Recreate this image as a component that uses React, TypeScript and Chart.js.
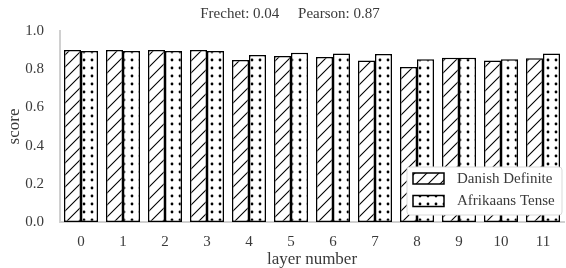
import React, { useEffect, useRef } from "react";
import { Chart, registerables } from "chart.js";

Chart.register(...registerables);

const categories = ["0", "1", "2", "3", "4", "5", "6", "7", "8", "9", "10", "11"];
const danishDefinite = [0.9, 0.9, 0.9, 0.9, 0.848, 0.869, 0.864, 0.845, 0.812, 0.86, 0.846, 0.857];
const afrikaansTense = [0.895, 0.895, 0.895, 0.895, 0.874, 0.886, 0.882, 0.88, 0.852, 0.86, 0.852, 0.882];
const seriesNames = ["Danish Definite", "Afrikaans Tense"];
const titleText = "Frechet: 0.04     Pearson: 0.87";

const FONT = "'Liberation Serif', 'Times New Roman', serif";
const TEXT = "#3a3a3a";

function hatchPattern(ctx: CanvasRenderingContext2D): CanvasPattern | string {
  const s = 12;
  const c = document.createElement("canvas");
  c.width = s;
  c.height = s;
  const g = c.getContext("2d")!;
  g.fillStyle = "#ffffff";
  g.fillRect(0, 0, s, s);
  g.strokeStyle = "#000000";
  g.lineWidth = 1.1;
  g.beginPath();
  g.moveTo(-1, s + 1);
  g.lineTo(s + 1, -1);
  g.moveTo(-1, 1);
  g.lineTo(1, -1);
  g.moveTo(s - 1, s + 1);
  g.lineTo(s + 1, s - 1);
  g.stroke();
  return ctx.createPattern(c, "repeat") || "#fff";
}

function dotPattern(ctx: CanvasRenderingContext2D): CanvasPattern | string {
  const s = 8;
  const c = document.createElement("canvas");
  c.width = s;
  c.height = s;
  const g = c.getContext("2d")!;
  g.fillStyle = "#ffffff";
  g.fillRect(0, 0, s, s);
  g.fillStyle = "#000000";
  g.beginPath();
  g.arc(4, 4, 1.4, 0, Math.PI * 2);
  g.fill();
  return ctx.createPattern(c, "repeat") || "#fff";
}

const titlePlugin = {
  id: "customTitle",
  afterDraw(chart: any) {
    const ctx = chart.ctx;
    ctx.save();
    ctx.font = `15px ${FONT}`;
    ctx.fillStyle = TEXT;
    ctx.textAlign = "center";
    ctx.textBaseline = "middle";
    ctx.fillText(titleText, 290, 14);
    ctx.restore();
  },
};

const legendPlugin = {
  id: "customLegend",
  afterDatasetsDraw(chart: any) {
    const ctx = chart.ctx;
    const x = 407, y = 167, w = 155, h = 48, r = 3;
    ctx.save();
    ctx.beginPath();
    ctx.roundRect(x, y, w, h, r);
    ctx.fillStyle = "#ffffff";
    ctx.fill();
    ctx.strokeStyle = "#d9d9d9";
    ctx.lineWidth = 1;
    ctx.stroke();
    chart.data.datasets.forEach((ds: any, i: number) => {
      const sy = y + 6 + i * 22.5;
      ctx.fillStyle = ds.backgroundColor;
      ctx.fillRect(413, sy, 31, 11);
      ctx.strokeStyle = "#000";
      ctx.lineWidth = 1.5;
      ctx.strokeRect(413, sy, 31, 11);
      ctx.font = `15px ${FONT}`;
      ctx.fillStyle = TEXT;
      ctx.textAlign = "left";
      ctx.textBaseline = "middle";
      ctx.fillText(ds.label, 457, sy + 6);
    });
    ctx.restore();
  },
};

export default function App() {
  const ref = useRef<HTMLCanvasElement>(null);
  useEffect(() => {
    document.body.style.margin = "0";
    const canvas = ref.current!;
    const ctx = canvas.getContext("2d")!;
    const chart = new Chart(ctx, {
      type: "bar",
      data: {
        labels: categories,
        datasets: [
          {
            label: seriesNames[0],
            data: danishDefinite,
            backgroundColor: hatchPattern(ctx) as any,
            borderColor: "#000",
            borderWidth: 1.5,
            borderSkipped: false,
            categoryPercentage: 0.81,
            barPercentage: 1,
          },
          {
            label: seriesNames[1],
            data: afrikaansTense,
            backgroundColor: dotPattern(ctx) as any,
            borderColor: "#000",
            borderWidth: 1.5,
            borderSkipped: false,
            categoryPercentage: 0.81,
            barPercentage: 1,
          },
        ],
      },
      options: {
        responsive: false,
        animation: false,
        devicePixelRatio: 1,
        layout: { padding: { top: 31, right: 2, left: 0, bottom: 0 } },
        plugins: {
          legend: { display: false },
          title: { display: false },
          tooltip: { enabled: false },
        },
        scales: {
          x: {
            grid: { display: false, drawTicks: false },
            border: { display: true, color: "#d0d0d0", width: 2 },
            ticks: { font: { family: FONT, size: 15 }, color: TEXT, padding: 11 },
            title: {
              display: true,
              text: "layer number",
              font: { family: FONT, size: 17 },
              color: TEXT,
              padding: { top: 0, bottom: -2 },
            },
            afterFit: (s: any) => {
              s.height = 46;
            },
          },
          y: {
            min: 0,
            max: 1,
            grid: { display: false, drawTicks: false },
            border: { display: true, color: "#d0d0d0", width: 2 },
            ticks: {
              stepSize: 0.2,
              font: { family: FONT, size: 15 },
              color: TEXT,
              padding: 16,
              callback: (v: any) => Number(v).toFixed(1),
            },
            title: {
              display: true,
              text: "score",
              font: { family: FONT, size: 17 },
              color: TEXT,
              padding: { top: 4, bottom: 0 },
            },
            afterFit: (s: any) => {
              s.width = 60;
            },
          },
        },
      },
      plugins: [titlePlugin, legendPlugin],
    });
    return () => chart.destroy();
  }, []);
  return (
    <div style={{ width: 566, height: 268 }}>
      <canvas ref={ref} width={566} height={268} style={{ display: "block" }} />
    </div>
  );
}
